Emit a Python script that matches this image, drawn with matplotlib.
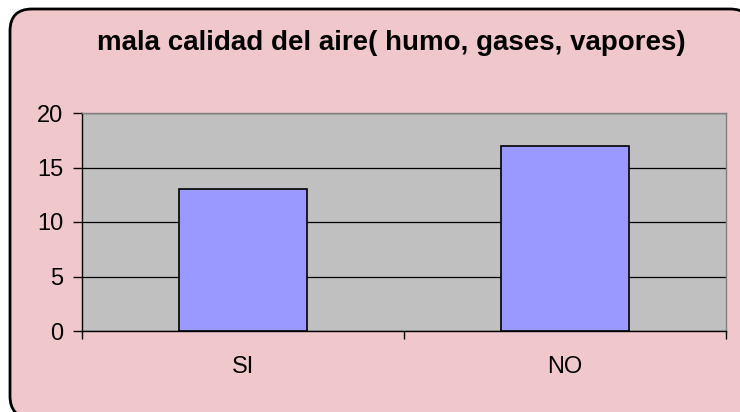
import matplotlib
matplotlib.use("Agg")
import matplotlib.pyplot as plt
from matplotlib.patches import FancyBboxPatch

# data
categories = ["SI", "NO"]
values = [13, 17]
yticks = [0, 5, 10, 15, 20]
title = "mala calidad del aire( humo, gases, vapores)"

plt.rcParams['font.family'] = ['Liberation Sans', 'DejaVu Sans']

fig = plt.figure(figsize=(7.4, 4.12), dpi=100, facecolor="white")

# rounded pink frame (pixel coords), cut off at right and bottom
frame = FancyBboxPatch((10, -6), 742, 409, boxstyle="round,pad=0,rounding_size=22",
                       transform=None, facecolor="#f0c8cc", edgecolor="black",
                       linewidth=2, zorder=-5)
fig.patches.append(frame)

ax = fig.add_axes([82/740, 1 - 331/412, 644/740, 218/412])
ax.set_facecolor("#c0c0c0")

x = range(len(categories))
ax.bar(x, values, width=0.4, color="#9999ff", edgecolor="black", linewidth=1.2, zorder=3)

ax.set_xlim(-0.5, 1.5)
ax.set_ylim(0, 20)
ax.set_yticks(yticks)
ax.yaxis.grid(True, color="black", linewidth=0.9, zorder=1)
ax.set_axisbelow(True)

# x ticks between categories, labels centred on the bars
ax.set_xticks([-0.5, 0.5, 1.5])
ax.set_xticklabels([])
ax.set_xticks(list(x), minor=True)
ax.set_xticklabels(categories, minor=True, fontsize=17)
ax.tick_params(axis="x", which="minor", length=0, pad=18)
ax.tick_params(axis="x", which="major", direction="out", length=6, width=1)
ax.tick_params(axis="y", direction="out", length=6.5, width=1, labelsize=17, pad=7)

ax.spines["left"].set_color("black")
ax.spines["bottom"].set_color("black")
ax.spines["top"].set_color("#808080")
ax.spines["right"].set_color("#808080")
for s in ax.spines.values():
    s.set_linewidth(1)

fig.text(391/740, 1 - 43/412, title, ha="center", va="center",
         fontsize=20, fontweight="bold")

fig.savefig("out.png", dpi=100, facecolor="white")
